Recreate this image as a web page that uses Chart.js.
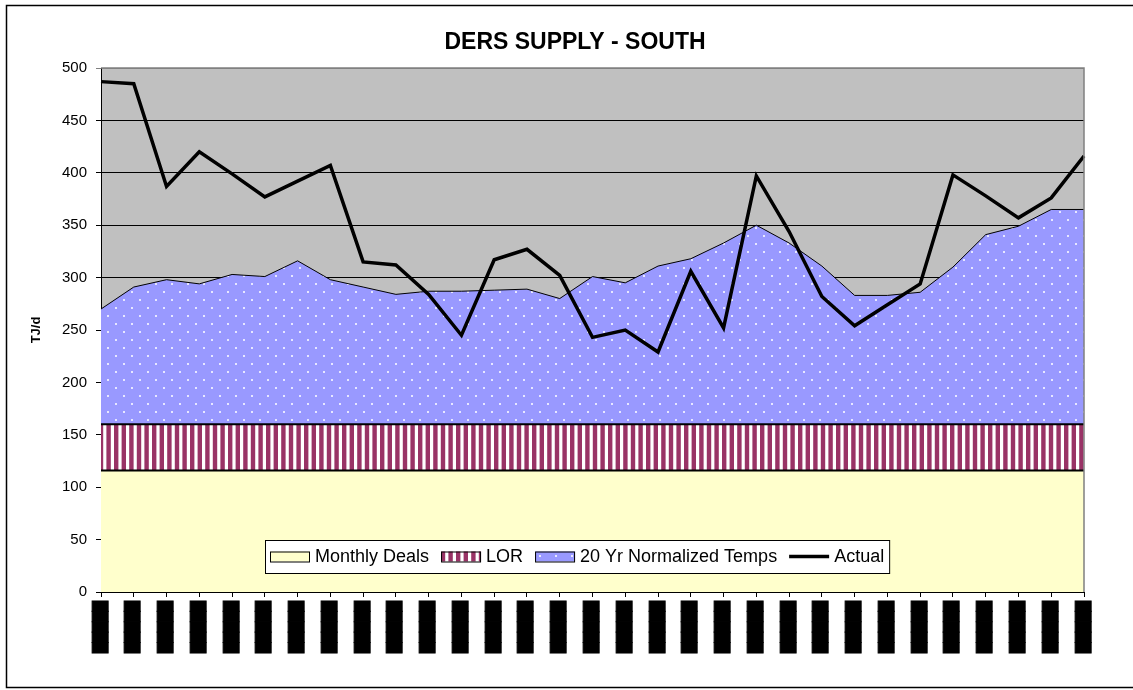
<!DOCTYPE html>
<html>
<head>
<meta charset="utf-8">
<script src="https://cdn.jsdelivr.net/npm/chart.js@4.4.1/dist/chart.umd.min.js"></script>
<style>
  html, body { margin: 0; padding: 0; background: #ffffff; }
  #wrap { position: relative; width: 1133px; height: 690px; }
  canvas { display: block; }
</style>
</head>
<body>
<div id="wrap"><canvas id="c" width="1133" height="690"></canvas></div>
<script>
// ---- Data ----
// x tick labels are blacked out in the reference: shown as solid blocks
const xTickLabels = [
  '█████','█████','█████','█████','█████','█████','█████','█████',
  '█████','█████','█████','█████','█████','█████','█████','█████',
  '█████','█████','█████','█████','█████','█████','█████','█████',
  '█████','█████','█████','█████','█████','█████','█████'
];
const monthlyDeals = [116,116,116,116,116,116,116,116,116,116,116,116,116,116,116,116,
                      116,116,116,116,116,116,116,116,116,116,116,116,116,116,116];
const lor = [44,44,44,44,44,44,44,44,44,44,44,44,44,44,44,44,
             44,44,44,44,44,44,44,44,44,44,44,44,44,44,44];
const normalizedTemps = [110,131,138,134,143,141,156,138,131,124,127,127,128,129,120,141,
                         135,151,158,173,190,173,151,123,123,126,150,181,189,205,205];
const actual = [487,485,387,420,399,377,392,407,315,312,284,245,317,327,302,243,
                250,229,306,252,397,344,282,254,274,294,398,378,357,376,416];
const yTicks = [0,50,100,150,200,250,300,350,400,450,500];
const seriesNames = ['Monthly Deals','LOR','20 Yr Normalized Temps','Actual'];

// ---- Patterns ----
function makeStripePattern() {
  const cv = document.createElement('canvas');
  cv.width = 38; cv.height = 4;
  const g = cv.getContext('2d');
  g.fillStyle = '#ffffff'; g.fillRect(0, 0, 38, 4);
  g.fillStyle = '#993366';
  for (let i = 0; i < 5; i++) g.fillRect(i * 7.6, 0, 4.4, 4);
  return g.createPattern(cv, 'repeat');
}
function makeDotPattern() {
  const cv = document.createElement('canvas');
  cv.width = 16; cv.height = 16;
  const g = cv.getContext('2d');
  g.fillStyle = '#9999FF'; g.fillRect(0, 0, 16, 16);
  g.fillStyle = 'rgba(235,235,255,0.95)';
  g.fillRect(3, 3, 2, 2);
  g.fillRect(11, 11, 2, 2);
  return g.createPattern(cv, 'repeat');
}
const ctx0 = document.getElementById('c').getContext('2d');
const stripePattern = makeStripePattern();
const dotPattern = makeDotPattern();
const yellow = '#FFFFCC';

// ---- Plugins ----
const frame = {
  id: 'frame',
  afterLayout(chart) {
    // Excel centres the title a little left of the plot-area centre
    if (chart.titleBlock) chart.titleBlock.left = 66;
  },
  beforeDraw(chart) {
    const c = chart.ctx, a = chart.chartArea;
    c.save();
    c.fillStyle = '#ffffff';
    c.fillRect(0, 0, chart.width, chart.height);
    c.strokeStyle = '#000000';
    c.lineWidth = 1.5;
    c.strokeRect(6.5, 5.5, 1140, 682);
    c.fillStyle = '#C0C0C0';
    c.fillRect(a.left, a.top, a.right - a.left, a.bottom - a.top);
    c.restore();
  },
  afterDatasetsDraw(chart) {
    const c = chart.ctx, a = chart.chartArea;
    c.save();
    c.strokeStyle = '#808080';
    c.lineWidth = 1.5;
    c.beginPath();
    c.moveTo(a.left, a.top);
    c.lineTo(a.right, a.top);
    c.lineTo(a.right, a.bottom);
    c.stroke();
    c.restore();
  }
};

const boxLegend = {
  id: 'boxLegend',
  afterDraw(chart) {
    const c = chart.ctx;
    c.save();
    c.font = '18px "Liberation Sans", Arial, sans-serif';
    c.textBaseline = 'middle';
    const top = 540, h = 33, cy = top + h / 2;
    const pad = 5, sw = 40, gapT = 5, gapI = 12;
    let x = 265 + pad;
    const items = [];
    seriesNames.forEach((name, i) => {
      const tw = c.measureText(name).width;
      items.push({ name, i, sx: x, tx: x + sw + gapT });
      x += sw + gapT + tw + gapI;
    });
    const right = x - gapI + pad;
    c.fillStyle = '#ffffff';
    c.fillRect(265, top, right - 265, h);
    c.strokeStyle = '#000000';
    c.lineWidth = 1;
    c.strokeRect(265.5, top + 0.5, right - 265, h);
    items.forEach(it => {
      if (it.i < 3) {
        const fill = it.i === 0 ? yellow : (it.i === 1 ? stripePattern : dotPattern);
        c.fillStyle = fill;
        c.fillRect(it.sx, cy - 5, sw, 10);
        c.strokeStyle = '#000000';
        c.lineWidth = 1;
        c.strokeRect(it.sx + 0.5, cy - 5 + 0.5, sw - 1, 10);
      } else {
        c.strokeStyle = '#000000';
        c.lineWidth = 3.5;
        c.beginPath();
        c.moveTo(it.sx, cy);
        c.lineTo(it.sx + sw, cy);
        c.stroke();
      }
      c.fillStyle = '#000000';
      c.fillText(it.name, it.tx, cy + 1);
    });
    c.restore();
  }
};

// ---- Chart ----
new Chart(ctx0, {
  type: 'line',
  data: {
    labels: xTickLabels,
    datasets: [
      {
        label: seriesNames[3], data: actual, stack: 'actual',
        borderColor: '#000000', borderWidth: 3.5, pointRadius: 0,
        fill: false, tension: 0, borderJoinStyle: 'miter'
      },
      {
        label: seriesNames[0], data: monthlyDeals, stack: 'supply',
        borderColor: '#000000', borderWidth: 2, pointRadius: 0,
        backgroundColor: yellow, fill: 'origin', tension: 0
      },
      {
        label: seriesNames[1], data: lor, stack: 'supply',
        borderColor: '#000000', borderWidth: 2, pointRadius: 0,
        backgroundColor: stripePattern, fill: '-1', tension: 0
      },
      {
        label: seriesNames[2], data: normalizedTemps, stack: 'supply',
        borderColor: '#000000', borderWidth: 1, pointRadius: 0,
        backgroundColor: dotPattern, fill: '-1', tension: 0
      }
    ]
  },
  options: {
    responsive: false,
    devicePixelRatio: 1,
    animation: false,
    layout: { padding: { left: 0, right: 49, top: 0, bottom: 0 } },
    plugins: {
      legend: { display: false },
      tooltip: { enabled: false },
      title: {
        display: true,
        text: 'DERS SUPPLY - SOUTH',
        color: '#000000',
        font: { family: '"Liberation Sans", Arial, sans-serif', size: 23, weight: 'bold' },
        padding: { top: 29.2, bottom: 11.2 }
      }
    },
    scales: {
      x: {
        offset: false,
        grid: { display: true, drawOnChartArea: false, drawTicks: true, tickLength: 5, color: '#000000' },
        border: { display: true, color: '#000000', width: 1 },
        ticks: {
          autoSkip: false, minRotation: 90, maxRotation: 90, padding: 4,
          color: '#000000',
          textStrokeColor: '#000000', textStrokeWidth: 1,
          font: { family: '"DejaVu Sans"', size: 13.5 }
        },
        afterFit(scale) { scale.height = 98; }
      },
      y: {
        stacked: true,
        min: 0, max: 500,
        afterBuildTicks(scale) { scale.ticks = yTicks.map(v => ({ value: v })); },
        grid: {
          color: (c) => (c.tick && c.tick.value === 500) ? '#808080' : '#000000',
          lineWidth: 1, tickLength: 5, drawTicks: true
        },
        border: { display: true, color: '#000000', width: 1 },
        ticks: {
          color: '#000000', padding: 9,
          font: { family: '"Liberation Sans", Arial, sans-serif', size: 15 }
        },
        title: {
          display: true, text: 'TJ/d', color: '#000000',
          font: { family: '"Liberation Sans", Arial, sans-serif', size: 13, weight: 'bold' },
          padding: { top: 28.2, bottom: 0 }
        },
        afterFit(scale) { scale.width = 101; }
      }
    }
  },
  plugins: [frame, boxLegend]
});
</script>
</body>
</html>
